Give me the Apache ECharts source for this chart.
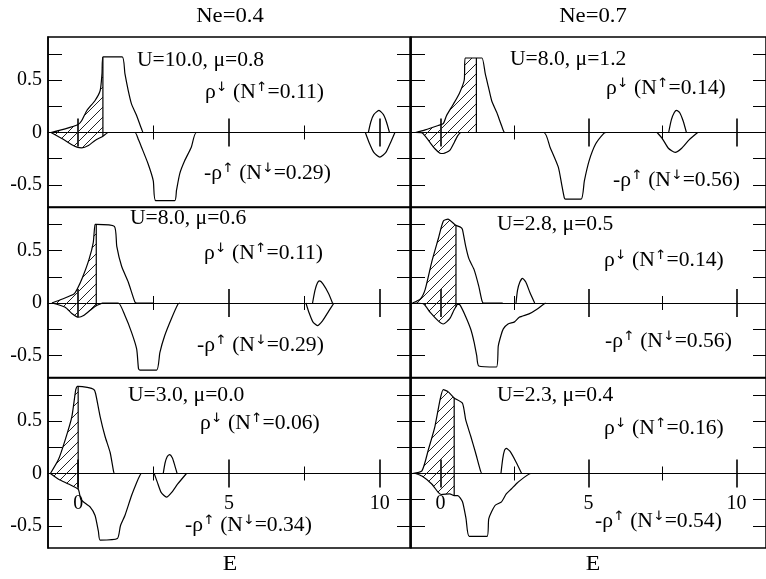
<!DOCTYPE html>
<html>
<head>
<meta charset="utf-8">
<script src="https://cdn.jsdelivr.net/npm/echarts@6/dist/echarts.min.js"></script>
<style>
  html,body{margin:0;padding:0;background:#fff}
  #main{width:766px;height:579px}
</style>
</head>
<body>
<div id="main"></div>
<script>
// panel order: top-left, top-right, mid-left, mid-right, bottom-left, bottom-right
const neValues = [0.4, 0.7];
const uValues = [10.0, 8.0, 8.0, 2.8, 3.0, 2.3];
const muValues = [0.8, 1.2, 0.6, 0.5, 0.0, 0.4];
const nUpValues = [0.11, 0.14, 0.11, 0.14, 0.06, 0.16];
const nDnValues = [0.29, 0.56, 0.29, 0.56, 0.34, 0.54];
const hatchEnd = [0.82, 1.21, 0.6, 0.52, 0.0, 0.46];   // right edge of the hatched (occupied) part
const xTicksMajor = [0, 5, 10];
const xTicksMinor = [2.5, 7.5];
const yTicks = [-0.5, -0.25, 0, 0.25, 0.5, 0.75];
const yLabels = [-0.5, 0, 0.5];

// rho_down (upper) and -rho_up (lower) curves, [E, value]
const up1 = [[-0.9,0],[-0.43,0.035],[0,0.076],[0.12,0.114],[0.29,0.21],[0.56,0.305],[0.73,0.4],[0.79,0.56],[0.82,0.72],[1.46,0.72],[1.55,0.56],[1.66,0.4],[1.77,0.27],[1.94,0.16],[2.1,0.035],[2.16,0],[2.5,0]];
const dn1 = [[-0.9,0],[-0.43,-0.076],[-0.21,-0.117],[-0.04,-0.14],[0.12,-0.146],[0.34,-0.124],[0.56,-0.076],[0.82,-0.035],[1.0,0],[1.88,0],[2.0,-0.07],[2.1,-0.14],[2.32,-0.3],[2.49,-0.46],[2.57,-0.65],[3.2,-0.65],[3.26,-0.55],[3.37,-0.39],[3.53,-0.27],[3.75,-0.14],[3.92,0],[4.7,0]];
const sat1Up = [[9.62,0],[9.7,0.1],[9.8,0.17],[9.97,0.21],[10.12,0.17],[10.22,0.1],[10.32,0]];
const sat1Dn = [[9.52,0],[9.65,-0.1],[9.8,-0.19],[10.0,-0.235],[10.2,-0.19],[10.35,-0.1],[10.5,0]];

const up2 = [[-0.85,0],[-0.52,0.025],[-0.08,0.067],[0.09,0.085],[0.2,0.16],[0.41,0.26],[0.63,0.37],[0.8,0.5],[0.83,0.71],[1.21,0.71],[1.4,0.71],[1.51,0.56],[1.62,0.43],[1.73,0.3],[1.9,0.19],[2.06,0.067],[2.17,0],[2.6,0]];
const dn2 = [[-0.85,0],[-0.62,-0.005],[-0.41,-0.076],[-0.19,-0.155],[-0.02,-0.197],[0.09,-0.2],[0.31,-0.17],[0.47,-0.09],[0.58,-0.03],[0.69,0],[1.21,0],[3.49,0],[3.7,-0.14],[3.98,-0.33],[4.09,-0.49],[4.18,-0.62],[4.22,-0.635],[4.75,-0.635],[4.86,-0.46],[5.02,-0.27],[5.24,-0.11],[5.51,-0.01],[5.6,0],[6.28,0]];
const sat2Up = [[7.71,0],[7.8,0.12],[7.9,0.19],[7.98,0.21],[8.08,0.19],[8.2,0.11],[8.31,0]];
const sat2Dn = [[7.32,0],[7.5,-0.06],[7.7,-0.15],[7.93,-0.19],[8.15,-0.15],[8.4,-0.07],[8.69,0]];

const up3 = [[-0.87,0],[-0.52,0.038],[-0.14,0.085],[-0.03,0.133],[0.14,0.24],[0.36,0.415],[0.5,0.575],[0.56,0.75],[0.6,0.75],[1.2,0.73],[1.28,0.54],[1.44,0.35],[1.66,0.2],[1.88,0.01],[1.95,0],[2.5,0]];
const dn3 = [[-0.87,0],[-0.43,-0.04],[-0.21,-0.1],[0.01,-0.136],[0.18,-0.12],[0.45,-0.057],[0.6,-0.025],[0.73,-0.01],[0.8,0],[1.33,0],[1.55,-0.12],[1.77,-0.28],[1.94,-0.44],[2.0,-0.625],[2.05,-0.64],[2.6,-0.64],[2.71,-0.47],[2.87,-0.31],[3.09,-0.15],[3.31,-0.01],[3.37,0]];
const sat3Up = [[7.77,0],[7.85,0.12],[7.93,0.19],[8.0,0.21],[8.12,0.18],[8.3,0.09],[8.43,0]];
const sat3Dn = [[7.55,0],[7.65,-0.09],[7.78,-0.18],[7.93,-0.215],[8.1,-0.17],[8.3,-0.08],[8.48,0]];

const up4 = [[-0.95,0],[-0.68,0.04],[-0.52,0.13],[-0.3,0.39],[-0.08,0.61],[0.09,0.78],[0.25,0.8],[0.47,0.75],[0.52,0.74],[0.69,0.72],[0.74,0.7],[0.85,0.54],[0.96,0.42],[1.13,0.32],[1.29,0.16],[1.4,0.02],[1.45,0],[2.1,0]];
const dn4 = [[-0.85,0],[-0.57,-0.01],[-0.35,-0.09],[-0.08,-0.17],[0.09,-0.2],[0.31,-0.15],[0.45,-0.07],[0.52,-0.035],[0.58,-0.01],[0.66,-0.02],[0.85,-0.13],[1.02,-0.25],[1.13,-0.37],[1.22,-0.5],[1.29,-0.6],[1.89,-0.61],[1.95,-0.41],[2.05,-0.3],[2.12,-0.246],[2.28,-0.2],[2.5,-0.18],[2.66,-0.136],[2.99,-0.104],[3.27,-0.057],[3.49,-0.01],[3.55,0]];
const sat4Up = [[2.55,0],[2.6,0.12],[2.68,0.2],[2.77,0.234],[2.88,0.2],[3.02,0.1],[3.18,0]];

const up5 = [[-0.92,0],[-0.65,0.135],[-0.43,0.32],[-0.21,0.54],[-0.08,0.8],[-0.03,0.83],[0,0.83],[0.3,0.82],[0.52,0.8],[0.58,0.76],[0.73,0.54],[0.89,0.355],[1.06,0.2],[1.17,0.025],[1.2,0],[1.4,0]];
const dn5 = [[-0.92,0],[-0.65,-0.054],[-0.32,-0.1],[0,-0.15],[0.08,-0.24],[0.17,-0.27],[0.4,-0.32],[0.56,-0.4],[0.67,-0.55],[0.73,-0.635],[1.3,-0.62],[1.4,-0.5],[1.55,-0.4],[1.77,-0.21],[1.94,-0.085],[2.05,-0.016],[2.1,0],[2.5,0]];
const sat5Up = [[2.82,0],[2.88,0.1],[2.95,0.16],[3.03,0.18],[3.12,0.15],[3.2,0.08],[3.28,0]];
const sat5Dn = [[2.52,0],[2.62,-0.08],[2.75,-0.18],[2.93,-0.226],[3.1,-0.18],[3.3,-0.1],[3.59,0]];

const up6 = [[-0.95,0],[-0.63,0.025],[-0.41,0.23],[-0.19,0.45],[-0.02,0.7],[0.09,0.8],[0.25,0.78],[0.46,0.72],[0.74,0.67],[0.85,0.51],[1.02,0.355],[1.18,0.2],[1.35,0.025],[1.4,0],[1.6,0]];
const dn6 = [[-0.85,0],[-0.63,-0.025],[-0.3,-0.1],[-0.08,-0.18],[0.03,-0.2],[0.31,-0.195],[0.46,-0.21],[0.58,-0.21],[0.74,-0.27],[0.86,-0.43],[0.97,-0.6],[1.57,-0.6],[1.63,-0.43],[1.84,-0.305],[2.06,-0.27],[2.22,-0.195],[2.39,-0.148],[2.61,-0.085],[3.05,0],[3.1,0]];
const sat6Up = [[2.04,0],[2.1,0.14],[2.16,0.22],[2.22,0.24],[2.35,0.21],[2.55,0.11],[2.74,0]];

const upCurves = [up1, up2, up3, up4, up5, up6];
const dnCurves = [dn1, dn2, dn3, dn4, dn5, dn6];
const satUp = [sat1Up, sat2Up, sat3Up, sat4Up, sat5Up, sat6Up];
const satDn = [sat1Dn, sat2Dn, sat3Dn, null, sat5Dn, null];

const FONT = 'Liberation Serif';
const SX = 1.08;
const Y_MIN = -0.71, Y_MAX = 0.91, PANEL_H = 170;

function hatchPattern(){
  const c = document.createElement('canvas');
  c.width = 10; c.height = 10;
  const ctx = c.getContext('2d');
  ctx.fillStyle = '#222';
  for(let i=0;i<10;i++) ctx.fillRect(i, 9-i, 1, 1);
  return c;
}
const hatch = { image: hatchPattern(), repeat: 'repeat' };

const rowTop = [37, 207.5, 378];
const grids = [], xAxes = [], yAxes = [], series = [], graphics = [];

for(let p=0;p<6;p++){
  const col = p % 2, row = Math.floor(p/2);
  grids.push({ left: col ? 411 : 48, top: rowTop[row], width: col ? 364 : 362, height: PANEL_H,
    show: true, borderColor: '#000', borderWidth: 1.5 });

  const yi = yAxes.length;
  const yb = { gridIndex: p, type: 'value', min: Y_MIN, max: Y_MAX, splitLine: {show:false} };
  yAxes.push({ ...yb, position: 'left',
    axisLine: {show: true, onZero: false, lineStyle: {color:'#000', width:1.5}},
    axisTick: {show: true, inside: true, length: 14, customValues: yTicks, lineStyle: {color:'#000', width:1}},
    axisLabel: {show: col === 0, customValues: yLabels, margin: 6, color:'#000', fontFamily: FONT, fontSize: 20} });
  yAxes.push({ ...yb, position: 'right',
    axisLine: {show: false, onZero: false},
    axisTick: {show: true, inside: true, length: 13, customValues: yTicks, lineStyle: {color:'#000', width:1}},
    axisLabel: {show: false} });

  const xi = xAxes.length;
  const mk = (pos, vals, len, line) => ({
    gridIndex: p, type: 'value', min: -1, max: 11, position: pos, splitLine: {show:false},
    axisLine: {show: line, onZero: true, onZeroAxisIndex: yi, lineStyle: {color:'#000', width:1}},
    axisTick: {show: true, inside: false, length: len, customValues: vals, lineStyle: {color:'#000', width: len > 10 ? 1.6 : 1}},
    axisLabel: {show: false}
  });
  xAxes.push(mk('bottom', xTicksMajor, 14, true));
  xAxes.push(mk('top', xTicksMajor, 14, false));
  xAxes.push(mk('bottom', xTicksMinor, 7, false));
  xAxes.push(mk('top', xTicksMinor, 7, false));
  if(row === 2){
    // tick labels sit just under the zero line
    xAxes.push({ gridIndex: p, type: 'value', min: -1, max: 11, position: 'bottom',
      offset: -(-Y_MIN) / (Y_MAX - Y_MIN) * PANEL_H, splitLine: {show:false},
      axisLine: {show: false, onZero: false}, axisTick: {show: false},
      axisLabel: {show: true, customValues: xTicksMajor, margin: 20, color:'#000', fontFamily: FONT, fontSize: 20} });
  }

  const line = (data, extra) => series.push(Object.assign({
    type: 'line', xAxisIndex: xi, yAxisIndex: yi, data: data, symbol: 'none', smooth: 0.2,
    silent: true, lineStyle: {color:'#000', width: 1.2}, z: 3
  }, extra || {}));

  const mu = hatchEnd[p];
  const up = upCurves[p], dn = dnCurves[p];
  // hatched occupied parts
  line(up.filter(d => d[0] <= mu), {lineStyle: {width: 0, opacity: 0}, areaStyle: {color: hatch, opacity: 1, origin: 'auto'}, z: 2});
  line(dn.filter(d => d[0] <= mu), {lineStyle: {width: 0, opacity: 0}, areaStyle: {color: hatch, opacity: 1, origin: 'auto'}, z: 2});
  const at = (arr, e) => arr.find(d => d[0] === e)[1];
  line([[mu, at(dn, mu)], [mu, at(up, mu)]], {smooth: false});
  line(up);
  line(dn);
  if(satUp[p]) line(satUp[p]);
  if(satDn[p]) line(satDn[p]);
}

// texts
const uPos = [[137,61],[510,60],[130,219],[497,225],[128,396],[497,396]];
const upPos = [[205,92],[606,88],[204,253],[604,260],[200,423],[604,428]];
const dnPos = [[204,173],[613,180],[197,345],[605,341],[185,525],[595,521]];
const richStyle = {
  t: {fontFamily: FONT, fontSize: 20, fill: '#000', lineHeight: 22, verticalAlign: 'bottom'},
  s: {fontFamily: 'DejaVu Sans', fontSize: 13, fill: '#000', lineHeight: 13, verticalAlign: 'top'}
};
function txt(x, y, text, size, align){
  return {type: 'text', x: x, y: y, scaleX: SX, silent: true,
    style: {text: text, fontFamily: FONT, fontSize: size, fill: '#000', align: align || 'left', verticalAlign: 'middle'}};
}
for(let p=0;p<6;p++){
  graphics.push(txt(uPos[p][0], uPos[p][1], 'U=' + uValues[p].toFixed(1) + ', μ=' + muValues[p].toFixed(1), 20));
  graphics.push({type:'text', x: upPos[p][0], y: upPos[p][1], scaleX: SX, silent: true,
    style: {text: '{t|ρ}{s|↓}{t| (N}{s|↑}{t|=' + nUpValues[p].toFixed(2) + ')}', rich: richStyle, align:'left', verticalAlign:'middle'}});
  graphics.push({type:'text', x: dnPos[p][0], y: dnPos[p][1], scaleX: SX, silent: true,
    style: {text: '{t|-ρ}{s|↑}{t| (N}{s|↓}{t|=' + nDnValues[p].toFixed(2) + ')}', rich: richStyle, align:'left', verticalAlign:'middle'}});
}
graphics.push(txt(230, 16, 'Ne=' + neValues[0], 21, 'center'));
graphics.push(txt(593, 16, 'Ne=' + neValues[1], 21, 'center'));
graphics.push(txt(230, 564, 'E', 22, 'center'));
graphics.push(txt(593, 564, 'E', 22, 'center'));

const chart = echarts.init(document.getElementById('main'));
chart.setOption({
  animation: false,
  backgroundColor: '#fff',
  grid: grids,
  xAxis: xAxes,
  yAxis: yAxes,
  series: series,
  graphic: graphics
});
</script>
</body>
</html>
